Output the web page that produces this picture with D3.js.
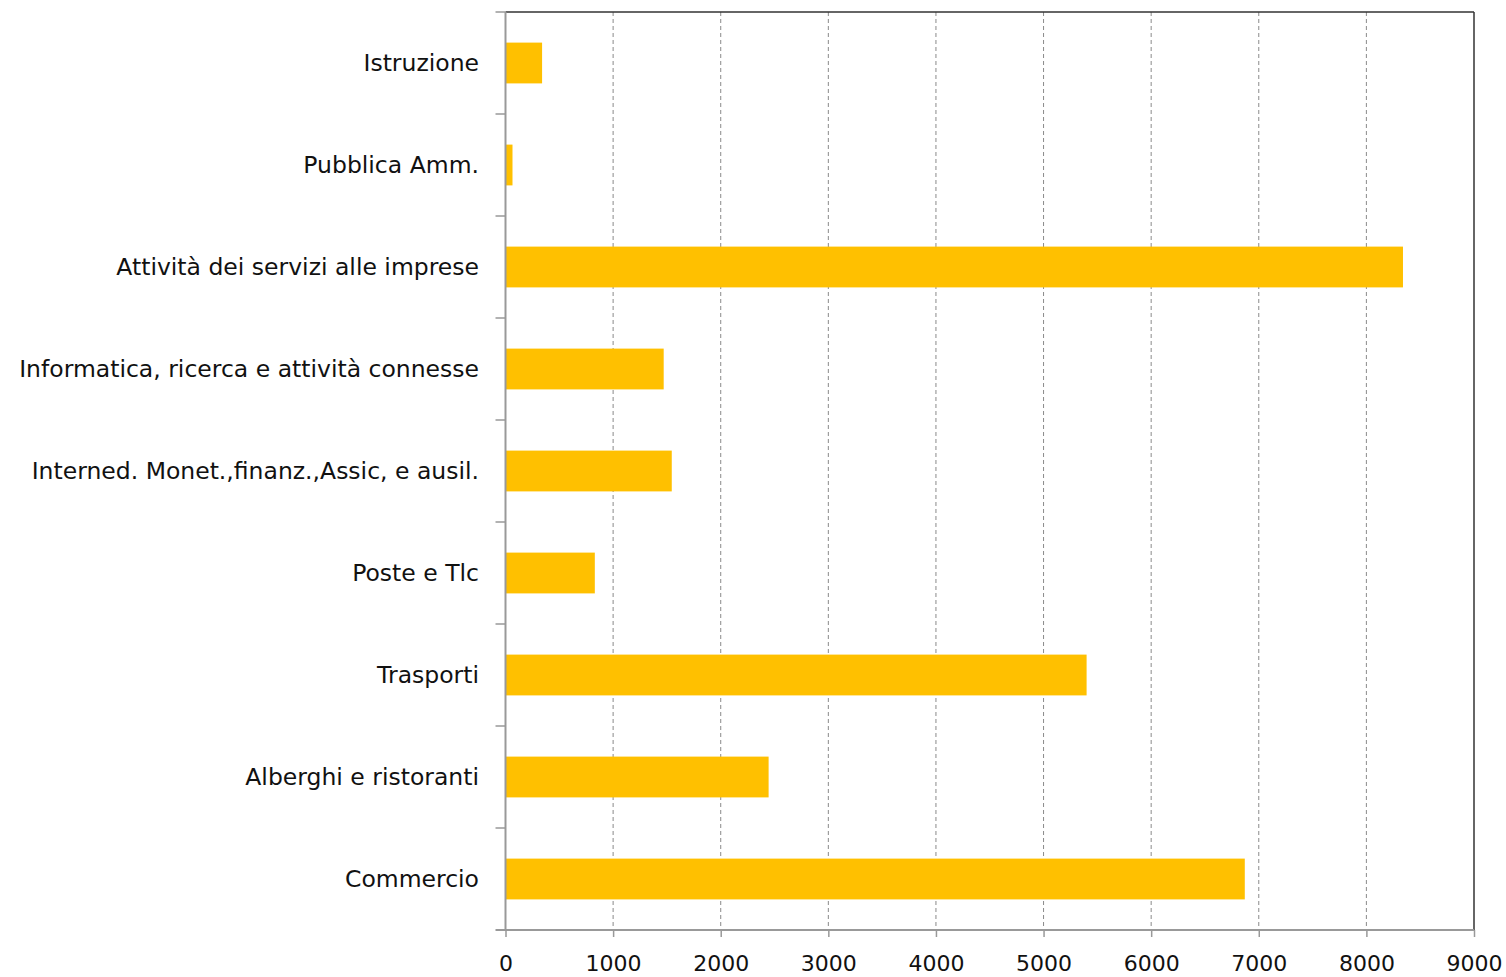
<!DOCTYPE html>
<html>
<head>
<meta charset="utf-8">
<script src="https://d3js.org/d3.v7.min.js"></script>
<style>
  body { margin: 0; background: #fff; }
  text { font-family: "DejaVu Sans", Verdana, sans-serif; fill: #111; }
</style>
</head>
<body>
<svg class="chart" width="1506" height="977"></svg>
<script>
// categories top to bottom
var categories = ["Istruzione", "Pubblica Amm.", "Attività dei servizi alle imprese",
  "Informatica, ricerca e attività connesse", "Interned. Monet.,finanz.,Assic, e ausil.",
  "Poste e Tlc", "Trasporti", "Alberghi e ristoranti", "Commercio"];
var values = [340, 65, 8340, 1470, 1545, 830, 5400, 2445, 6870];
var xTicks = [0, 1000, 2000, 3000, 4000, 5000, 6000, 7000, 8000, 9000];

var svg = d3.select('.chart');
var plotLeft = 505.5, plotRight = 1474, plotTop = 12, plotBottom = 930;

var x = d3.scaleLinear().domain([0, 9000]).range([plotLeft, plotRight]);
var y = d3.scaleBand().domain(categories).range([plotTop, plotBottom]).paddingInner(0.6).paddingOuter(0.3);

// dashed grid
svg.selectAll('.grid')
  .data(xTicks.slice(1, -1))
  .enter()
  .append('line')
  .attr('x1', function (d) { return x(d); })
  .attr('x2', function (d) { return x(d); })
  .attr('y1', plotTop)
  .attr('y2', plotBottom)
  .attr('stroke', '#8a8a8a')
  .attr('stroke-width', 1)
  .attr('stroke-dasharray', '4,3');

// bars
svg.selectAll('.bar')
  .data(values)
  .enter()
  .append('rect')
  .attr('x', x(0))
  .attr('y', function (d, i) { return y(categories[i]); })
  .attr('width', function (d) { return x(d) - x(0); })
  .attr('height', y.bandwidth())
  .attr('fill', '#ffc000');

// frame: top and right dark
svg.append('line').attr('x1', plotLeft).attr('x2', plotRight).attr('y1', plotTop).attr('y2', plotTop)
  .attr('stroke', '#333').attr('stroke-width', 1.5);
svg.append('line').attr('x1', plotRight).attr('x2', plotRight).attr('y1', plotTop).attr('y2', plotBottom)
  .attr('stroke', '#333').attr('stroke-width', 1.5);

// x axis
var xAxis = svg.append('g')
  .attr('transform', 'translate(0,' + plotBottom + ')')
  .call(d3.axisBottom(x).tickValues(xTicks).tickFormat(d3.format('d')).tickSize(7).tickSizeOuter(0));
xAxis.select('.domain').attr('stroke', '#999').attr('stroke-width', 2).attr('d', 'M' + (plotLeft - 10) + ',0H' + plotRight);
xAxis.selectAll('.tick line').attr('stroke', '#999').attr('stroke-width', 1.5);
xAxis.selectAll('.tick text').attr('font-size', 22).attr('y', 41).attr('dy', '0')
  .style('font-family', '"DejaVu Sans", Verdana, sans-serif').style('fill', '#111');

// y axis line and ticks between bands
svg.append('line').attr('x1', plotLeft).attr('x2', plotLeft).attr('y1', plotTop).attr('y2', plotBottom)
  .attr('stroke', '#999').attr('stroke-width', 2);
var step = (plotBottom - plotTop) / categories.length;
svg.selectAll('.ytick')
  .data(d3.range(categories.length))
  .enter()
  .append('line')
  .attr('x1', plotLeft - 10)
  .attr('x2', plotLeft)
  .attr('y1', function (i) { return plotTop + i * step; })
  .attr('y2', function (i) { return plotTop + i * step; })
  .attr('stroke', '#999')
  .attr('stroke-width', 1.5);

// category labels
svg.selectAll('.label')
  .data(categories)
  .enter()
  .append('text')
  .attr('x', 479)
  .attr('y', function (d) { return y(d) + y.bandwidth() / 2; })
  .attr('dy', '0.36em')
  .attr('text-anchor', 'end')
  .attr('font-size', 23.5)
  .text(function (d) { return d; });
</script>
</body>
</html>
